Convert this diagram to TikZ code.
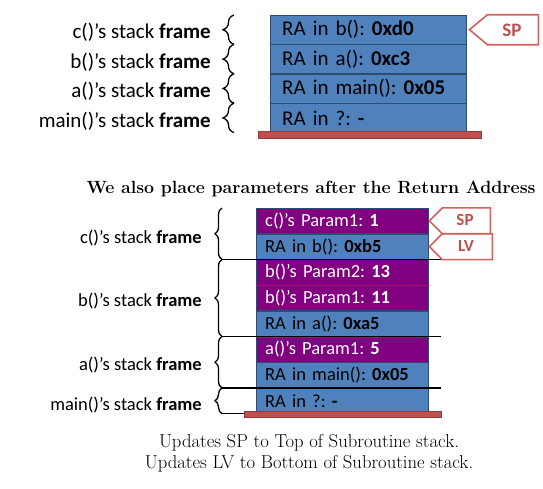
\documentclass[tikz,border=0pt]{standalone}
\usepackage{fontspec}
\newfontfamily\calib{Carlito}
\usetikzlibrary{positioning,decorations.pathreplacing}
\definecolor{rowblue}{HTML}{4F81BD}
\definecolor{rowpurple}{HTML}{800080}
\definecolor{edgeblue}{HTML}{2F4B70}
\definecolor{barred}{HTML}{C0504D}
\definecolor{tagred}{HTML}{D4605E}

\begin{document}
\begin{tikzpicture}[x=1pt,y=-1pt,
		big row/.style={rectangle,draw=edgeblue,fill=rowblue,minimum width=196pt,minimum height=29pt,
			text width=172pt,inner xsep=12pt,inner ysep=0pt,align=left,font=\calib\frenchspacing\fontsize{21}{21}\selectfont},
		small row/.style={rectangle,draw=edgeblue,fill=rowblue,minimum width=172pt,minimum height=25.3pt,
			text width=154pt,inner xsep=9pt,inner ysep=0pt,align=left,font=\calib\frenchspacing\fontsize{18.5}{18.5}\selectfont},
		param row/.style={small row,fill=rowpurple,text=white},
		big label/.style={anchor=east,inner sep=0pt,font=\calib\frenchspacing\fontsize{21}{21}\selectfont},
		small label/.style={anchor=east,inner sep=0pt,font=\calib\frenchspacing\fontsize{18.5}{18.5}\selectfont},
		big brace/.style={decorate,decoration={brace,amplitude=11pt},line width=1.3pt},
		small brace/.style={decorate,decoration={brace,amplitude=7pt},line width=1.3pt},
		tag line/.style={draw=tagred,line width=1.6pt},
		tag text/.style={text=barred,font=\calib\bfseries\fontsize{19}{19}\selectfont},
		base bar/.style={draw=barred!75!black,fill=barred},
		caption text/.style={align=center,font=\fontsize{18.7}{21}\selectfont}]
	
	\useasboundingbox (0,0) rectangle (543,488);
	
	% first stack
	\node[big row,anchor=north west] (tb) at (270,15) {RA in b(): \textbf{0xd0}};
	\node[big row] (ta) [below=0pt of tb] {RA in a(): \textbf{0xc3}};
	\node[big row] (tm) [below=0pt of ta] {RA in main(): \textbf{0x05}};
	\node[big row] (tq) [below=0pt of tm] {RA in ?: \textbf{-}};
	\draw[base bar] (258,131) rectangle (481,138);
	
	\coordinate (bx) at (234,0);
	\coordinate (lx) at (211,0);
	\draw[big brace] (tb.south -| bx) -- (tb.north -| bx);
	\draw[big brace] (ta.south -| bx) -- (ta.north -| bx);
	\draw[big brace] (tm.south -| bx) -- (tm.north -| bx);
	\draw[big brace] (tq.south -| bx) -- (tq.north -| bx);
	\node[big label] (lc) at ([yshift=-3pt]tb.west -| lx) {c()’s stack \textbf{frame}};
	\node[big label] (lb) at ([yshift=-3pt]ta.west -| lx) {b()’s stack \textbf{frame}};
	\node[big label] (la) at ([yshift=-3pt]tm.west -| lx) {a()’s stack \textbf{frame}};
	\node[big label] (lm) at ([yshift=-3pt]tq.west -| lx) {main()’s stack \textbf{frame}};
	
	\draw[tag line] ([xshift=3pt]tb.east) -- ++(18,-15) -- ++(51,0) -- ++(0,30) -- ++(-51,0) -- cycle;
	\node[tag text] (sp) at (512,30) {SP};
	
	\node[font=\bfseries\fontsize{17.7}{22}\selectfont] (ttl) at (311,189) {We also place parameters after the Return Address};
	
	% second stack
	\node[param row,anchor=north west] (cp1) at (256,208) {c()’s Param1: \textbf{1}};
	\node[small row] (rab) [below=0pt of cp1] {RA in b(): \textbf{0xb5}};
	\node[param row] (bp2) [below=0pt of rab] {b()’s Param2: \textbf{13}};
	\node[param row] (bp1) [below=0pt of bp2] {b()’s Param1: \textbf{11}};
	\node[small row] (raa) [below=0pt of bp1] {RA in a(): \textbf{0xa5}};
	\node[param row] (ap1) [below=0pt of raa] {a()’s Param1: \textbf{5}};
	\node[small row] (ram) [below=0pt of ap1] {RA in main(): \textbf{0x05}};
	\node[small row] (raq) [below=0pt of ram] {RA in ?: \textbf{-}};
	
	\coordinate (sx) at (222,0);
	\coordinate (ex) at (441,0);
	\coordinate (kx) at (202,0);
	\draw[small brace] (rab.south -| sx) -- (cp1.north -| sx);
	\draw[small brace] (raa.south -| sx) -- (bp2.north -| sx);
	\draw[small brace] (ram.south -| sx) -- (ap1.north -| sx);
	\draw[small brace] (raq.south -| sx) -- (raq.north -| sx);
	\draw[line width=1.3pt] (rab.south -| sx) -- (rab.south -| ex);
	\draw[line width=1.3pt] (raa.south -| sx) -- (raa.south -| ex);
	\draw[line width=1.3pt] (ram.south -| sx) -- (ram.south -| ex);
	\draw[line width=1.3pt] (raq.south -| sx) -- (raq.south -| ex);
	\draw[base bar] (244,411) rectangle (441,417);
	
	\node[small label] (kc) at ([yshift=-4pt]cp1.south -| kx) {c()’s stack \textbf{frame}};
	\node[small label] (kb) at ([yshift=-3pt]bp1.center -| kx) {b()’s stack \textbf{frame}};
	\node[small label] (ka) at ([yshift=-3pt]ap1.south -| kx) {a()’s stack \textbf{frame}};
	\node[small label] (km) at ([yshift=-4pt]raq.west -| kx) {main()’s stack \textbf{frame}};
	
	\draw[tag line] ([xshift=1pt]cp1.east) -- ++(13,-13) -- ++(48,0) -- ++(0,26) -- ++(-48,0) -- cycle;
	\draw[tag line] ([xshift=1pt]rab.east) -- ++(13,-13) -- ++(50,0) -- ++(0,26) -- ++(-50,0) -- cycle;
	\node[tag text,font=\calib\bfseries\fontsize{17}{17}\selectfont] (sp2) at (465,220) {SP};
	\node[tag text,font=\calib\bfseries\fontsize{17}{17}\selectfont] (lv) at (466,246) {LV};
	
	\node[caption text] (cap) at (309,453.5) {Updates SP to Top of Subroutine stack.\\Updates LV to Bottom of Subroutine stack.};
	
\end{tikzpicture}
\end{document}
